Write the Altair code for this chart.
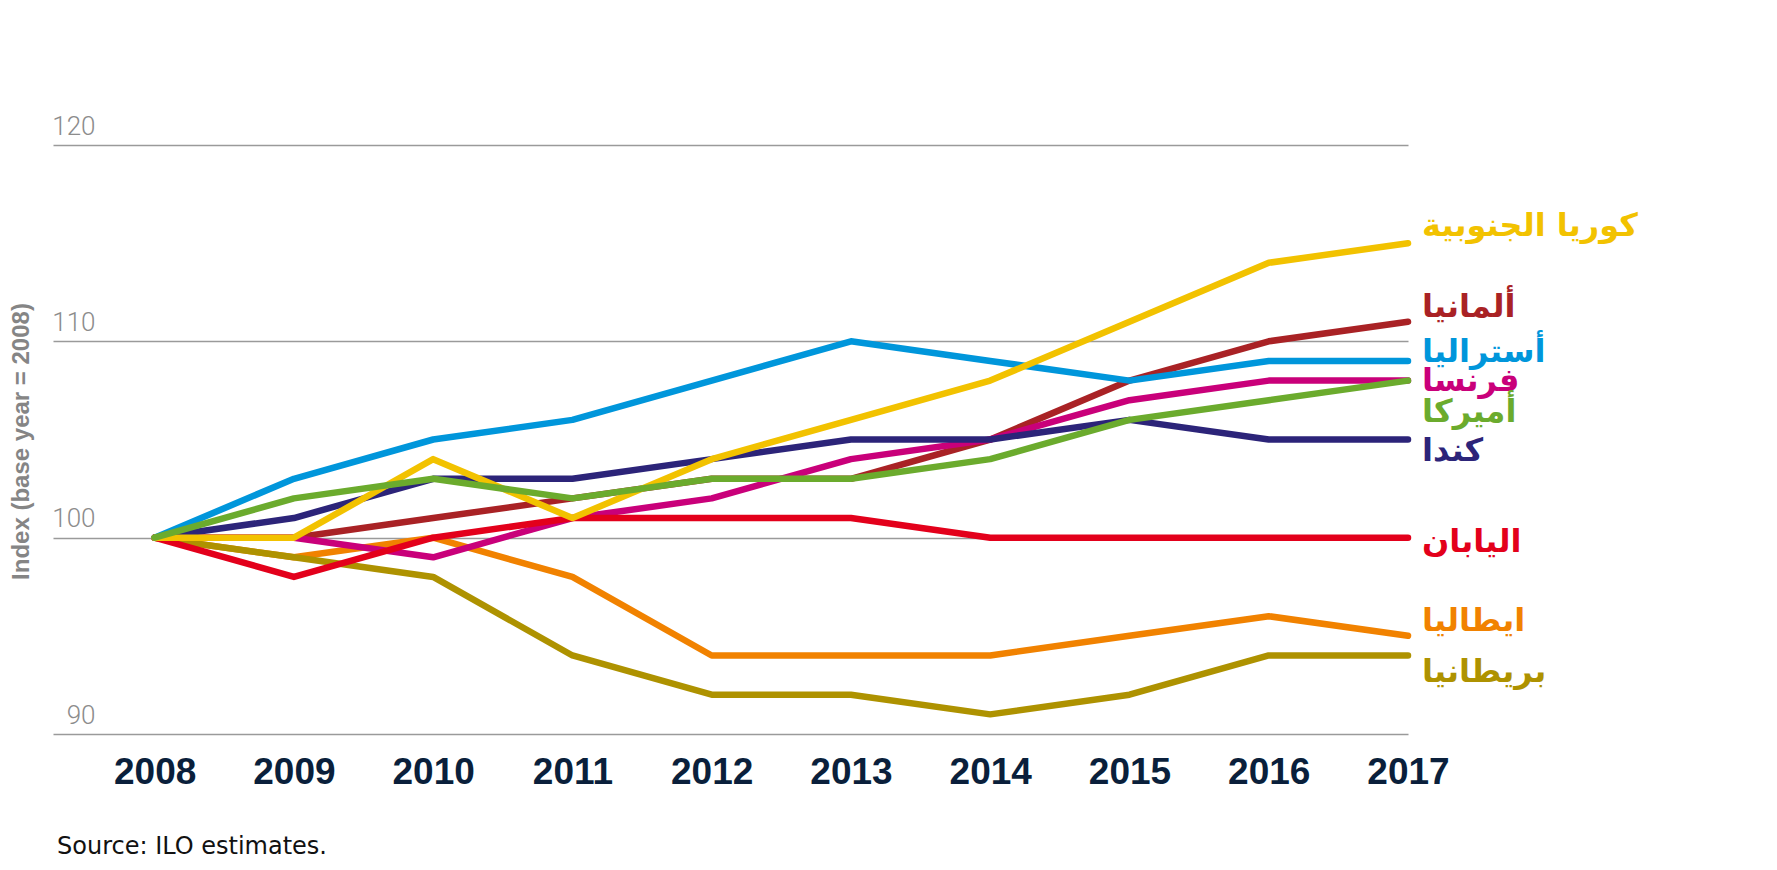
import altair as alt
import pandas as pd

years = [2008, 2009, 2010, 2011, 2012, 2013, 2014, 2015, 2016, 2017]

# draw order: bottom to top
countries = ["ألمانيا", "ايطاليا", "بريطانيا", "فرنسا", "اليابان", "كندا", "أستراليا", "كوريا الجنوبية", "أميركا"]
colors = ["#a92225", "#f18200", "#ae9200", "#c9007a", "#e3001b", "#2c2479", "#0096db", "#f2c200", "#6bab2d"]

germany   = [100, 100, 101, 102, 103, 103, 105, 108, 110, 111]
italy     = [100, 99, 100, 98, 94, 94, 94, 95, 96, 95]
uk        = [100, 99, 98, 94, 92, 92, 91, 92, 94, 94]
france    = [100, 100, 99, 101, 102, 104, 105, 107, 108, 108]
japan     = [100, 98, 100, 101, 101, 101, 100, 100, 100, 100]
canada    = [100, 101, 103, 103, 104, 105, 105, 106, 105, 105]
australia = [100, 103, 105, 106, 108, 110, 109, 108, 109, 109]
korea     = [100, 100, 104, 101, 104, 106, 108, 111, 114, 115]
usa       = [100, 102, 103, 102, 103, 103, 104, 106, 107, 108]

series = [germany, italy, uk, france, japan, canada, australia, korea, usa]

# label anchor (index units) at the right end of each line
label_y = [111.25, 95.27, 92.67, 107.48, 99.29, 103.9, 108.96, 115.37, 105.9]

rows = []
for name, vals in zip(countries, series):
    for yr, v in zip(years, vals):
        rows.append({"year": yr, "value": v, "country": name})
df = pd.DataFrame(rows)

labels = pd.DataFrame({"country": countries, "year": [2017] * len(countries), "value": label_y})

W, H = 1355, 589
xscale = alt.Scale(domain=[2007.27, 2017], nice=False, zero=False)
yscale = alt.Scale(domain=[90, 120], nice=False, zero=False)

xaxis = alt.Axis(
    values=years, format="d", title=None, grid=False, domain=False, ticks=False,
    labelFlush=False, labelFont="Liberation Sans", labelFontWeight="bold",
    labelFontSize=37, labelColor="#0a1f3b", labelPadding=20,
)
yaxis = alt.Axis(
    values=[90, 100, 110, 120], title="Index (base year = 2008)", grid=True,
    gridColor="#9a9a9a", gridWidth=1.5, domain=False, ticks=False, tickSize=0,
    labelAlign="right", labelBaseline="alphabetic", labelPadding=-42, labelOffset=-11,
    labelFont="Roboto", labelFontWeight=300, labelFontSize=26, labelColor="#8c8c8c",
    titleFont="Liberation Sans", titleFontWeight="bold", titleFontSize=24,
    titleColor="#858585", titleAngle=270, titleX=-32, titleY=296,
    titleAlign="center", titleBaseline="middle",
)

X = alt.X("year:Q", scale=xscale, axis=xaxis)
Y = alt.Y("value:Q", scale=yscale, axis=yaxis)

layers = []
for name, col in zip(countries, colors):
    ch = alt.Chart(df).transform_filter(alt.datum.country == name).mark_line(
        strokeWidth=6.5, strokeCap="round", strokeJoin="round", color=col
    ).encode(x=X, y=Y)
    layers.append(ch)

text = alt.Chart(labels).mark_text(
    align="left", baseline="alphabetic", dx=14, font="DejaVu Sans", fontWeight="bold", fontSize=32
).encode(
    x=X, y=Y,
    text="country:N",
    color=alt.Color("country:N", scale=alt.Scale(domain=countries, range=colors), legend=None),
)

source = alt.Chart(pd.DataFrame({"t": ["Source: ILO estimates."]})).mark_text(
    align="left", baseline="alphabetic", font="DejaVu Sans", fontSize=24, color="#111111"
).encode(x=alt.value(4), y=alt.value(709), text="t:N")

chart = alt.layer(*layers, text, source).properties(
    width=W, height=H,
    background="white",
    autosize=alt.AutoSizeParams(type="none"),
    padding={"left": 45, "top": 137, "right": 360, "bottom": 128},
).configure_view(strokeWidth=0, stroke="transparent")

chart.save("out.html", embed_options={"renderer": "svg", "actions": False})
